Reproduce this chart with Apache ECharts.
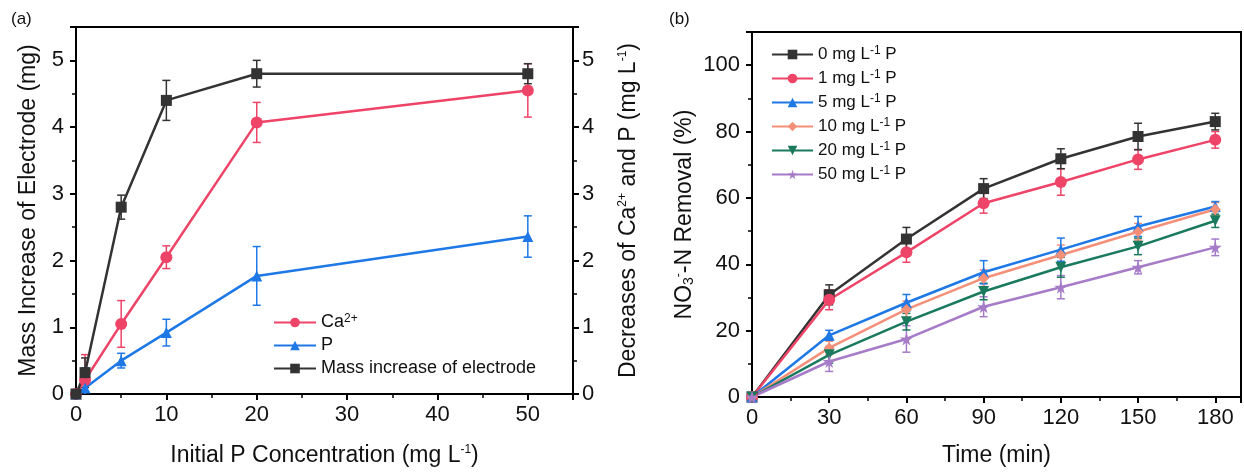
<!DOCTYPE html>
<html>
<head>
<meta charset="utf-8">
<script src="https://cdn.jsdelivr.net/npm/echarts@6/dist/echarts.min.js"></script>
<style>
  html, body { margin: 0; padding: 0; background: #fff; }
  #chart { width: 1244px; height: 472px; }
</style>
</head>
<body>
<div id="chart"></div>
<script>
// panel (a): initial P concentration (mg L-1)
const concA = [0, 1, 5, 10, 20, 50]
const caVals = [0, 0.21, 1.05, 2.05, 4.07, 4.55]
const caErr = [0, 0.38, 0.35, 0.17, 0.3, 0.4]
const pVals = [0, 0.09, 0.5, 0.92, 1.77, 2.36]
const pErr = [0, 0.3, 0.11, 0.2, 0.44, 0.31]
const massVals = [0, 0.32, 2.8, 4.4, 4.8, 4.8]
const massErr = [0, 0.22, 0.18, 0.3, 0.2, 0.15]
const namesA = ['Ca2+', 'P', 'Mass increase of electrode']

// panel (b): time (min) vs NO3- -N removal (%)
const times = [0, 30, 60, 90, 120, 150, 180]
const rem0 = [0, 30.8, 47.6, 62.8, 71.8, 78.5, 83.0]
const err0 = [0, 3, 3.5, 3, 3, 4, 2.5]
const rem1 = [0, 29.3, 43.6, 58.4, 64.8, 71.6, 77.5]
const err1 = [0, 3, 3, 3, 4, 3, 2.5]
const rem5 = [0, 18.6, 28.4, 37.6, 44.4, 51.4, 57.4]
const err5 = [0, 1.5, 2.5, 3.5, 3.5, 3, 1.5]
const rem10 = [0, 14.8, 26.4, 35.8, 42.8, 49.8, 56.6]
const err10 = [0, 2, 2.5, 2.5, 3, 2.5, 2]
const rem20 = [0, 12.7, 22.7, 31.8, 39.1, 45.4, 53.1]
const err20 = [0, 2.5, 2.5, 2.5, 3, 2.5, 2]
const rem50 = [0, 10.7, 17.5, 27.2, 33.1, 39.1, 45.1]
const err50 = [0, 3, 4, 3, 3.5, 2, 2.5]
const namesB = ['0 mg L-1 P', '1 mg L-1 P', '5 mg L-1 P', '10 mg L-1 P', '20 mg L-1 P', '50 mg L-1 P']

const FONT = '"Liberation Sans", Arial, sans-serif'
const BLACK = '#333333'
const RED = '#EE4468'
const BLUE = '#1E78E6'
const ORANGE = '#F4907A'
const GREEN = '#1A7A5E'
const PURPLE = '#A67BC8'
const STAR = 'path://M50,0 L61,35 L98,35 L68,57 L79,91 L50,70 L21,91 L32,57 L2,35 L39,35 Z'

const supRich = {
  sup: { fontSize: 12, lineHeight: 12, verticalAlign: 'top', fontFamily: FONT, color: '#111' },
  sub: { fontSize: 14, lineHeight: 12, verticalAlign: 'bottom', fontFamily: FONT, color: '#111' }
}

function zip(xs, ys, es) {
  return xs.map((x, i) => [x, ys[i], es[i]])
}

function errorRender(color) {
  return function (params, api) {
    const x = api.value(0)
    const y = api.value(1)
    const e = api.value(2)
    if (!e) return
    const top = api.coord([x, y + e])
    const bot = api.coord([x, y - e])
    const w = 4
    const st = { stroke: color, lineWidth: 1.5 }
    return {
      type: 'group',
      children: [
        { type: 'line', shape: { x1: top[0], y1: top[1], x2: bot[0], y2: bot[1] }, style: st },
        { type: 'line', shape: { x1: top[0] - w, y1: top[1], x2: top[0] + w, y2: top[1] }, style: st },
        { type: 'line', shape: { x1: bot[0] - w, y1: bot[1], x2: bot[0] + w, y2: bot[1] }, style: st }
      ]
    }
  }
}

function lineSeries(name, xs, ys, color, symbol, gridIdx, yIdx, rotate) {
  return {
    name,
    type: 'line',
    xAxisIndex: gridIdx,
    yAxisIndex: yIdx,
    data: xs.map((x, i) => [x, ys[i]]),
    symbol,
    symbolSize: symbol === 'circle' ? 12 : (symbol === STAR ? 13 : 11),
    symbolRotate: rotate || 0,
    showAllSymbol: true,
    lineStyle: { color, width: 2.5 },
    itemStyle: { color },
    z: 3
  }
}

function errSeries(xs, ys, es, color, gridIdx, yIdx) {
  return {
    type: 'custom',
    xAxisIndex: gridIdx,
    yAxisIndex: yIdx,
    data: zip(xs, ys, es),
    encode: { x: 0, y: 1 },
    renderItem: errorRender(color),
    clip: true,
    silent: true,
    z: 2
  }
}

function intLabel(step) {
  return v => (Math.abs(v / step - Math.round(v / step)) < 1e-6 ? String(v) : '')
}

const axisLine = { show: true, lineStyle: { color: '#000', width: 2 } }
const axisTick = { show: true, length: 6, lineStyle: { color: '#000', width: 2 } }
const minorTick = { show: true, splitNumber: 2, length: 4, lineStyle: { color: '#000', width: 1.5 } }
const tickLabel = { color: '#111', fontSize: 22, fontFamily: FONT }
const nameStyle = { color: '#111', fontSize: 23, fontFamily: FONT, rich: supRich }

const chart = echarts.init(document.getElementById('chart'))

chart.setOption({
  backgroundColor: '#fff',
  animation: false,
  title: [
    { text: '(a)', left: 6, top: 6, textStyle: { fontSize: 17, fontWeight: 'normal', color: '#111', fontFamily: FONT } },
    { text: '(b)', left: 664, top: 6, textStyle: { fontSize: 17, fontWeight: 'normal', color: '#111', fontFamily: FONT } }
  ],
  grid: [
    { left: 76, top: 27, width: 497, height: 367, show: true, borderColor: '#000', borderWidth: 2 },
    { left: 752, top: 32, width: 498, height: 367, show: true, borderColor: '#000', borderWidth: 2 }
  ],
  legend: [
    {
      data: namesA,
      orient: 'vertical',
      left: 268,
      top: 308,
      itemWidth: 42,
      itemHeight: 12,
      itemGap: 4,
      selectedMode: false,
      formatter: n => n.replace('2+', '{sup|2+}'),
      textStyle: { fontSize: 18, lineHeight: 19, color: '#111', fontFamily: FONT, rich: supRich }
    },
    {
      data: namesB,
      orient: 'vertical',
      left: 766,
      top: 40,
      itemWidth: 41,
      itemHeight: 12,
      itemGap: 5,
      selectedMode: false,
      formatter: n => n.replace('L-1', 'L{sup|-1}'),
      textStyle: { fontSize: 17, lineHeight: 19, color: '#111', fontFamily: FONT, rich: supRich }
    }
  ],
  xAxis: [
    {
      type: 'value', gridIndex: 0, min: 0, max: 55, interval: 10,
      name: 'Initial P Concentration (mg L{sup|-1})',
      nameLocation: 'middle', nameGap: 50, nameTextStyle: nameStyle,
      axisLine, axisTick, minorTick,
      axisLabel: Object.assign({ margin: 10, formatter: intLabel(10) }, tickLabel),
      splitLine: { show: false }
    },
    {
      type: 'value', gridIndex: 1, min: 0, max: 190, interval: 30,
      name: 'Time (min)',
      nameLocation: 'middle', nameGap: 47, nameTextStyle: nameStyle,
      axisLine, axisTick, minorTick,
      axisLabel: Object.assign({ margin: 10, formatter: intLabel(30) }, tickLabel),
      splitLine: { show: false }
    }
  ],
  yAxis: [
    {
      type: 'value', gridIndex: 0, min: 0, max: 5.5, interval: 1, position: 'left',
      name: 'Mass Increase of Electrode (mg)',
      nameLocation: 'middle', nameGap: 36, nameRotate: 90, nameTextStyle: nameStyle,
      axisLine, axisTick, minorTick,
      axisLabel: Object.assign({ margin: 12, formatter: intLabel(1) }, tickLabel),
      splitLine: { show: false }
    },
    {
      type: 'value', gridIndex: 0, min: 0, max: 5.5, interval: 1, position: 'right',
      name: 'Decreases of Ca{sup|2+} and P (mg L{sup|-1})',
      nameLocation: 'middle', nameGap: 44, nameRotate: 90, nameTextStyle: nameStyle,
      axisLine, axisTick, minorTick,
      axisLabel: Object.assign({ margin: 9, formatter: intLabel(1) }, tickLabel),
      splitLine: { show: false }
    },
    {
      type: 'value', gridIndex: 1, min: 0, max: 110, interval: 20,
      name: 'NO{sub|3}{sup|-}-N Removal (%)',
      nameLocation: 'middle', nameGap: 56, nameRotate: 90, nameTextStyle: nameStyle,
      axisLine, axisTick, minorTick,
      axisLabel: Object.assign({ margin: 12, formatter: intLabel(20) }, tickLabel),
      splitLine: { show: false }
    }
  ],
  series: [
    errSeries(concA, caVals, caErr, RED, 0, 1),
    errSeries(concA, pVals, pErr, BLUE, 0, 1),
    errSeries(concA, massVals, massErr, BLACK, 0, 0),
    lineSeries(namesA[0], concA, caVals, RED, 'circle', 0, 1),
    lineSeries(namesA[1], concA, pVals, BLUE, 'triangle', 0, 1),
    lineSeries(namesA[2], concA, massVals, BLACK, 'rect', 0, 0),

    errSeries(times, rem50, err50, PURPLE, 1, 2),
    errSeries(times, rem20, err20, GREEN, 1, 2),
    errSeries(times, rem10, err10, ORANGE, 1, 2),
    errSeries(times, rem5, err5, BLUE, 1, 2),
    errSeries(times, rem1, err1, RED, 1, 2),
    errSeries(times, rem0, err0, BLACK, 1, 2),
    lineSeries(namesB[0], times, rem0, BLACK, 'rect', 1, 2),
    lineSeries(namesB[1], times, rem1, RED, 'circle', 1, 2),
    lineSeries(namesB[2], times, rem5, BLUE, 'triangle', 1, 2),
    lineSeries(namesB[3], times, rem10, ORANGE, 'diamond', 1, 2),
    lineSeries(namesB[4], times, rem20, GREEN, 'triangle', 1, 2, 180),
    lineSeries(namesB[5], times, rem50, PURPLE, STAR, 1, 2)
  ]
})
</script>
</body>
</html>
